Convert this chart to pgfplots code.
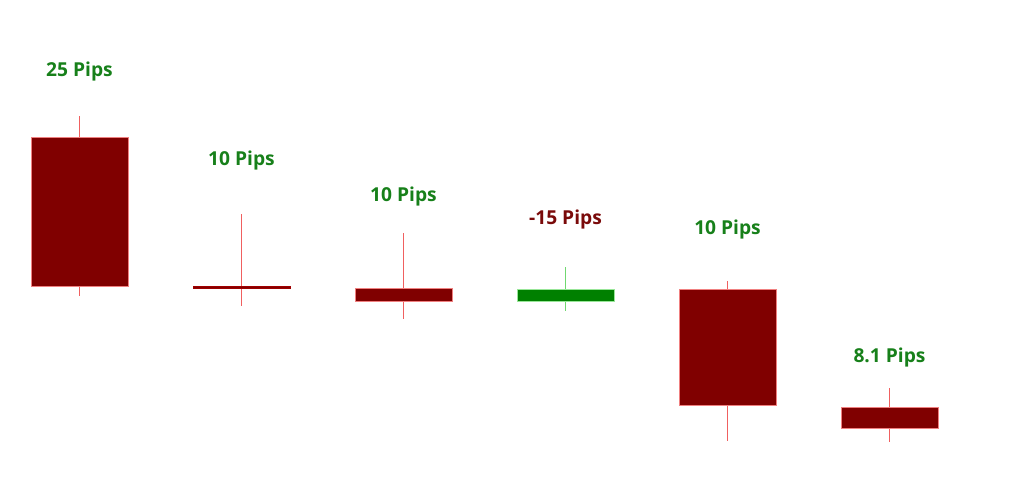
\documentclass[border=0pt]{standalone}
\usepackage{pgfplots}
\pgfplotsset{compat=1.18}
\usepackage{fontspec}
\setmainfont{Open Sans}

\definecolor{body}{HTML}{800000}
\definecolor{wick}{HTML}{F08080}
\definecolor{wickline}{HTML}{F06060}
\definecolor{gbody}{HTML}{008000}
\definecolor{gwick}{HTML}{98E698}
\definecolor{gwickline}{HTML}{70D870}
\definecolor{labgreen}{HTML}{17801A}
\definecolor{labred}{HTML}{7A0A0A}

\tikzset{lab/.style={font=\fontsize{9.6}{11}\selectfont\bfseries, text=labgreen}}

\begin{document}
\begin{tikzpicture}
\begin{axis}[
    hide axis,
    scale only axis,
    width=512pt, height=244pt,
    xmin=-0.4907, xmax=5.8302,
    ymin=0, ymax=488,
    clip=false,
]
\path (rel axis cs:0,0) rectangle (rel axis cs:1,1);

% wicks: thin filled strips from low to high
\addplot[fill=wickline, draw=none] coordinates {(-0.0035,192) (0.0035,192) (0.0035,372) (-0.0035,372)} -- cycle;
\addplot[fill=wickline, draw=none] coordinates {(0.9965,182) (1.0035,182) (1.0035,274) (0.9965,274)} -- cycle;
\addplot[fill=wickline, draw=none] coordinates {(1.9965,169) (2.0035,169) (2.0035,255) (1.9965,255)} -- cycle;
\addplot[fill=gwickline, draw=none] coordinates {(2.9965,177) (3.0035,177) (3.0035,221) (2.9965,221)} -- cycle;
\addplot[fill=wickline, draw=none] coordinates {(3.9965,47) (4.0035,47) (4.0035,207) (3.9965,207)} -- cycle;
\addplot[fill=wickline, draw=none] coordinates {(4.9965,46) (5.0035,46) (5.0035,100) (4.9965,100)} -- cycle;

% bodies: open/close
\addplot[fill=body, draw=wick, line width=0.3pt] coordinates {(-0.3,202) (0.3,202) (0.3,351) (-0.3,351)} -- cycle;
\addplot[fill=body, draw=body!75!red, line width=0.3pt] coordinates {(0.7,200) (1.3,200) (1.3,202) (0.7,202)} -- cycle;
\addplot[fill=body, draw=wick, line width=0.3pt] coordinates {(1.7,187) (2.3,187) (2.3,200) (1.7,200)} -- cycle;
\addplot[fill=gbody, draw=gwick, line width=0.3pt] coordinates {(2.7,187) (3.3,187) (3.3,199) (2.7,199)} -- cycle;
\addplot[fill=body, draw=wick, line width=0.3pt] coordinates {(3.7,83) (4.3,83) (4.3,199) (3.7,199)} -- cycle;
\addplot[fill=body, draw=wick, line width=0.3pt] coordinates {(4.7,60) (5.3,60) (5.3,81) (4.7,81)} -- cycle;

\node[lab] at (axis cs:0,416) {25 Pips};
\node[lab] at (axis cs:1,327) {10 Pips};
\node[lab] at (axis cs:2,291) {10 Pips};
\node[lab, text=labred] at (axis cs:3,268) {-15 Pips};
\node[lab] at (axis cs:4,258) {10 Pips};
\node[lab] at (axis cs:5,130) {8.1 Pips};
\end{axis}
\end{tikzpicture}
\end{document}
